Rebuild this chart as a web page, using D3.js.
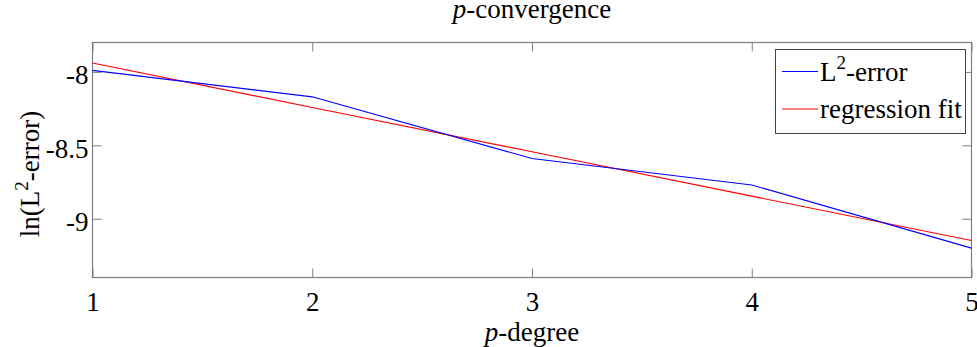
<!DOCTYPE html>
<html><head><meta charset="utf-8">
<script src="https://cdn.jsdelivr.net/npm/d3@7"></script>
<style>
body{margin:0;background:#fff;}
</style></head>
<body><svg id="c" width="977" height="347" font-family="'Liberation Serif', 'Times New Roman', serif"></svg>
<script>
const degrees = [1, 2, 3, 4, 5];
const l2Error = [-7.99, -8.17, -8.59, -8.77, -9.20];
const regressionFit = [-7.94, -8.242, -8.544, -8.846, -9.148];
const xTicks = [1, 2, 3, 4, 5];
const yTicks = [-9, -8.5, -8];
const seriesNames = ["L²-error", "regression fit"];

const FONT = "'Liberation Serif', 'Times New Roman', serif";
const svg = d3.select("#c");
const m = {l: 92.5, r: 971.5, t: 42.5, b: 277.5};
const x = d3.scaleLinear().domain([1, 5]).range([m.l, m.r]);
const y = d3.scaleLinear().domain([-9.4, -7.8]).range([m.b, m.t]);
const axisCol = "#7f7f7f";
const fs = 27;

svg.append("rect").attr("x", m.l).attr("y", m.t).attr("width", m.r - m.l).attr("height", m.b - m.t)
  .attr("fill", "none").attr("stroke", axisCol).attr("stroke-width", 1.2);

const tl = 9;
const fmt = d => String(d);
const gx = svg.append("g").attr("transform", `translate(0,${m.b})`)
  .call(d3.axisBottom(x).tickValues(xTicks).tickSize(-tl).tickPadding(14).tickFormat(fmt));
const gxt = svg.append("g").attr("transform", `translate(0,${m.t})`)
  .call(d3.axisTop(x).tickValues(xTicks).tickSize(-tl).tickFormat(""));
const gy = svg.append("g").attr("transform", `translate(${m.l},0)`)
  .call(d3.axisLeft(y).tickValues(yTicks).tickSize(-tl).tickPadding(4).tickFormat(fmt));
const gyr = svg.append("g").attr("transform", `translate(${m.r},0)`)
  .call(d3.axisRight(y).tickValues(yTicks).tickSize(-tl).tickFormat(""));
[gx, gxt, gy, gyr].forEach(g => {
  g.attr("font-family", null).attr("font-size", null);
  g.select(".domain").remove();
  g.selectAll(".tick line").attr("stroke", axisCol).attr("stroke-width", 1);
  g.selectAll("text").style("font-size", fs + "px").attr("fill", "#000");
});
gx.selectAll("text").attr("dy", "0.71em");
gy.selectAll("text").attr("dy", "0.44em");

const line = d3.line().x((d, i) => x(degrees[i])).y(d => y(d));
svg.append("path").datum(regressionFit).attr("d", line).attr("fill", "none").attr("stroke", "#ff0000").attr("stroke-width", 1.1);
svg.append("path").datum(l2Error).attr("d", line).attr("fill", "none").attr("stroke", "#0000ff").attr("stroke-width", 1.1);

const title = svg.append("text").attr("x", (m.l + m.r) / 2).attr("y", 18).attr("text-anchor", "middle").style("font-size", "27px");
title.append("tspan").style("font-style", "italic").text("p");
title.append("tspan").text("-convergence");

const xl = svg.append("text").attr("x", (m.l + m.r) / 2).attr("y", 341).attr("text-anchor", "middle").style("font-size", fs + "px");
xl.append("tspan").style("font-style", "italic").text("p");
xl.append("tspan").text("-degree");

const yl = svg.append("text").attr("transform", `translate(39,${(m.t + m.b) / 2 + 14}) rotate(-90)`).attr("text-anchor", "middle").style("font-size", fs + "px");
yl.append("tspan").text("ln(L");
yl.append("tspan").attr("dy", -11).style("font-size", "19px").text("2");
yl.append("tspan").attr("dy", 11).text("-error)");

const lg = svg.append("g");
lg.append("rect").attr("x", 775.5).attr("y", 49.5).attr("width", 190).attr("height", 84)
  .attr("fill", "#fff").attr("stroke", "#444").attr("stroke-width", 1);
const cols = ["#0000ff", "#ff0000"];
const ly = [71.5, 109];
cols.forEach((c, i) => {
  lg.append("line").attr("x1", 782).attr("x2", 818).attr("y1", ly[i]).attr("y2", ly[i]).attr("stroke", c).attr("stroke-width", 1);
});
const t1 = lg.append("text").attr("x", 820).attr("y", ly[0] + 9).style("font-size", fs + "px");
t1.append("tspan").text("L");
t1.append("tspan").attr("dy", -12).style("font-size", "19px").text("2");
t1.append("tspan").attr("dy", 12).text("-error");
lg.append("text").attr("x", 820).attr("y", ly[1] + 9).style("font-size", fs + "px").text(seriesNames[1]);

svg.selectAll("text").style("font-family", FONT);
</script></body></html>
